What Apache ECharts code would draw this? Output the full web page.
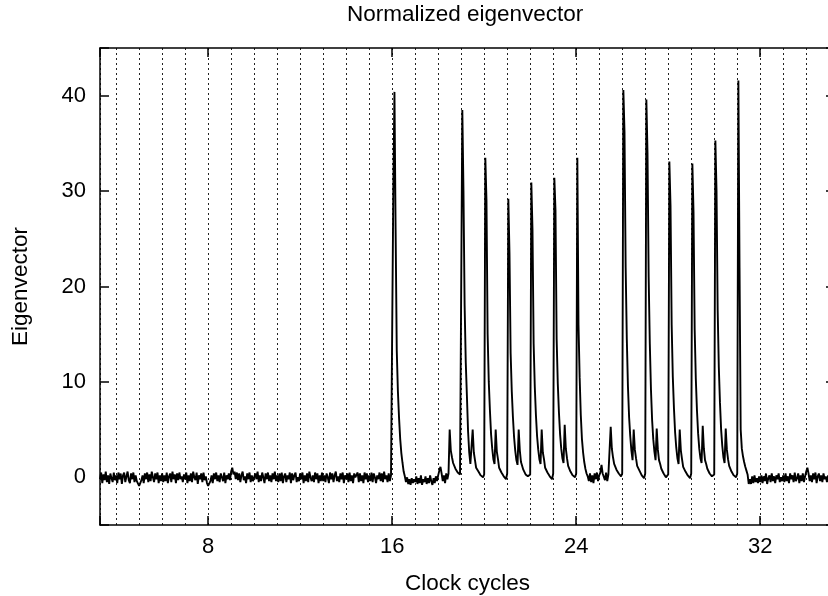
<!DOCTYPE html>
<html>
<head>
<meta charset="utf-8">
<script src="https://cdn.jsdelivr.net/npm/echarts@6/dist/echarts.min.js"></script>
<style>
  html, body { margin: 0; padding: 0; background: #fff; }
  #chart { width: 828px; height: 596px; }
</style>
</head>
<body>
<div id="chart"></div>
<script>
// ---- data ----
const startCycle = 3.3;     // first sample, clock cycles
const sampleStep = 0.05;    // sample spacing, clock cycles
const xMin = 3.3, xMax = 35.25;
const yMin = -5, yMax = 45;
const xTickLabels = [8, 16, 24, 32];
const yTickLabels = [0, 10, 20, 30, 40];

const eigenvector = [
  // 3.30 - 3.95
  -0.2, 0.5, -0.6, 0.3, -0.3, 0.6, -0.5, 0.2, -0.7, 0.4, -0.1, -0.5, 0.5, -0.3,
  // 4
  0.2, -0.6, 0.5, -0.2, 0.4, -0.7, 0.2, 0.5, -0.5, 0.1, 0.6, -0.3, -0.6, 0.4, -0.2, 0.5, -0.5, 0.2, -0.4, -0.5,
  // 5
  -0.9, -0.6, -0.3, 0.2, -0.6, 0.4, -0.2, 0.5, -0.5, 0.3, -0.4, 0.6, 0.0, -0.5, 0.4, -0.2, 0.5, -0.6, 0.2, -0.4,
  // 6
  0.4, -0.5, 0.2, -0.4, 0.5, -0.6, 0.1, 0.4, -0.5, 0.6, -0.2, 0.3, -0.6, 0.4, -0.3, 0.5, -0.2, 0.1, -0.5, 0.3,
  // 7
  -0.2, 0.5, -0.6, 0.2, -0.4, 0.4, -0.5, 0.6, 0.0, -0.3, 0.5, -0.7, 0.2, -0.2, 0.4, -0.5, 0.5, -0.3, 0.1, -0.6,
  // 8
  -0.9, -0.7, -0.4, 0.2, -0.6, 0.4, -0.2, 0.5, -0.4, 0.2, -0.5, 0.4, 0.0, -0.4, 0.5, -0.6, 0.2, -0.2, 0.4, -0.3,
  // 9
  0.6, 1.0, 0.3, 0.6, -0.2, 0.5, -0.3, 0.4, -0.5, 0.2, 0.6, -0.3, 0.1, -0.6, 0.4, -0.2, 0.5, -0.5, 0.2, -0.4,
  // 10
  -0.5, 0.4, -0.2, 0.6, -0.5, 0.2, -0.4, 0.5, 0.0, -0.6, 0.4, -0.2, 0.5, -0.4, 0.2, -0.5, 0.4, -0.2, 0.6, -0.4,
  // 11
  0.2, -0.5, 0.4, -0.4, 0.5, -0.6, 0.1, 0.4, -0.5, 0.2, -0.2, 0.5, -0.6, 0.4, -0.3, 0.2, 0.5, -0.5, 0.0, -0.4,
  // 12
  0.4, -0.2, 0.5, -0.6, 0.2, -0.4, 0.4, -0.5, 0.6, 0.0, -0.4, 0.2, -0.5, 0.5, -0.2, 0.4, -0.6, 0.2, -0.4, 0.5,
  // 13
  -0.4, 0.2, -0.5, 0.4, 0.0, -0.6, 0.5, -0.2, 0.4, -0.5, 0.2, 0.6, -0.4, 0.1, -0.5, 0.4, -0.2, 0.5, -0.6, 0.2,
  // 14
  -0.2, 0.4, -0.5, 0.5, -0.4, 0.2, -0.6, 0.4, 0.0, -0.2, 0.5, -0.5, 0.4, -0.4, 0.2, -0.6, 0.5, -0.2, 0.4, -0.5,
  // 15
  0.2, -0.4, 0.5, -0.5, 0.4, 0.0, -0.6, 0.2, -0.2, 0.5, -0.4, 0.4, -0.5, 0.6, -0.2, 0.2, -0.5, 0.4, -0.4, 0.2,
  // 16
  0.3, 30.0, 40.4, 26.0, 13.3, 9.0, 6.2, 4.0, 2.5, 1.5, 0.6, 0.1, -0.5, 0.0, -0.7, -0.2, -0.8, -0.1, -0.6, -0.2,
  // 17
  -0.5, 0.1, -0.7, -0.1, -0.6, 0.2, -0.8, -0.2, -0.5, 0.1, -0.7, -0.1, -0.6, 0.2, -0.4, -0.8, -0.1, -0.6, 0.1, -0.4,
  // 18
  0.2, 0.7, 1.1, 0.4, -0.4, 0.2, -0.6, 0.4, -0.2, 0.4, 5.0, 2.8, 2.1, 1.5, 1.3, 0.9, 0.9, 0.5, 0.6, 0.3,
  // 19
  0.4, 38.5, 30.0, 18.0, 12.0, 8.5, 4.8, 2.6, 1.4, 1.3, 5.0, 2.6, 1.8, 1.0, 1.1, 0.6, 0.7, 0.2, 0.4, 0.0,
  // 20
  0.3, 33.5, 29.0, 15.0, 10.0, 7.0, 4.5, 3.0, 1.9, 1.4, 5.0, 2.7, 1.9, 1.0, 1.1, 0.5, 0.7, 0.1, 0.3, -0.2,
  // 21
  0.4, 29.2, 23.5, 13.0, 9.0, 6.3, 4.2, 2.8, 1.8, 1.3, 5.0, 2.8, 1.6, 1.4, 0.8, 0.8, 0.3, 0.4, 0.1, -0.1,
  // 22
  0.3, 30.9, 26.0, 14.0, 9.5, 6.5, 4.3, 2.9, 1.9, 1.4, 5.0, 2.6, 1.9, 1.0, 1.1, 0.5, 0.6, 0.1, 0.3, -0.2,
  // 23
  0.4, 31.4, 28.0, 14.5, 9.8, 6.8, 4.5, 3.0, 2.0, 1.5, 5.5, 3.0, 2.0, 1.2, 1.2, 0.6, 0.7, 0.2, 0.4, 0.0,
  // 24
  0.4, 33.5, 16.0, 10.5, 6.5, 4.0, 2.6, 1.6, 0.9, 0.4, 0.1, -0.4, 0.4, -0.5, 0.2, -0.6, 0.4, -0.2, 0.5, -0.4,
  // 25
  0.2, 0.5, 1.3, 0.4, 0.3, -0.3, 0.5, -0.4, 0.3, 0.5, 5.3, 3.0, 2.1, 1.4, 1.2, 0.8, 0.8, 0.4, 0.4, 0.1,
  // 26
  0.4, 40.6, 36.2, 22.0, 14.5, 9.5, 6.3, 4.3, 2.8, 1.8, 5.0, 2.9, 2.0, 1.2, 1.1, 0.7, 0.6, 0.2, 0.3, -0.1,
  // 27
  0.4, 39.6, 34.0, 21.0, 14.0, 9.2, 6.0, 4.0, 2.7, 1.8, 5.1, 2.9, 1.8, 1.4, 0.9, 0.8, 0.4, 0.4, 0.0, 0.1,
  // 28
  0.3, 33.1, 28.5, 16.0, 10.5, 7.2, 4.7, 3.1, 2.0, 1.4, 5.0, 2.8, 1.9, 1.1, 1.0, 0.6, 0.5, 0.2, 0.2, -0.1,
  // 29
  0.4, 32.9, 27.8, 15.5, 10.3, 7.0, 4.6, 3.0, 2.0, 1.5, 5.4, 3.0, 1.8, 1.4, 0.9, 0.8, 0.4, 0.4, 0.1, 0.1,
  // 30
  0.3, 35.3, 30.0, 17.5, 11.5, 7.8, 5.0, 3.3, 2.1, 1.5, 5.1, 2.9, 1.9, 1.2, 1.1, 0.6, 0.6, 0.2, 0.3, 0.0,
  // 31
  0.4, 41.6, 22.0, 5.0, 3.0, 2.2, 1.6, 1.1, 0.7, 0.3, -0.7, -0.2, -0.7, 0.1, -0.6, 0.2, -0.5, -0.1, -0.6, 0.1,
  // 32
  -0.5, 0.2, -0.6, 0.1, -0.4, 0.4, -0.7, -0.1, 0.2, -0.5, 0.4, -0.4, 0.1, -0.6, 0.2, -0.2, 0.4, -0.5, 0.0, -0.4,
  // 33
  0.2, -0.5, 0.4, -0.4, 0.1, -0.6, 0.4, -0.2, 0.2, -0.5, 0.5, -0.4, -0.1, 0.4, -0.6, 0.2, -0.4, 0.4, -0.5, 0.1,
  // 34
  0.6, 1.0, 0.4, -0.4, 0.2, -0.5, 0.4, -0.2, 0.5, -0.6, 0.1, 0.4, -0.4, 0.2, -0.5, 0.4, -0.2, 0.1, -0.5, 0.2,
  // 35.00 - 35.25
  -0.2, 0.4, -0.4, 0.2, -0.5, 0.1
];

// pair each sample with its clock-cycle position
const seriesData = eigenvector.map((v, i) => [Number((startCycle + i * sampleStep).toFixed(2)), v]);

const FONT = 'Liberation Sans, Arial, Helvetica, sans-serif';
const black = '#000';

const chart = echarts.init(document.getElementById('chart'), null, { renderer: 'canvas' });

const xBase = { type: 'value', min: xMin, max: xMax, gridIndex: 0 };
const yBase = { type: 'value', min: yMin, max: yMax, gridIndex: 0 };
const frameLine = { show: true, onZero: false, lineStyle: { color: black, width: 1.5 } };
const inTick = { show: true, inside: true, length: 9, lineStyle: { color: black, width: 1.5 } };

const option = {
  animation: false,
  backgroundColor: '#fff',
  title: {
    text: 'Normalized eigenvector',
    left: 347,
    top: 3,
    padding: 0,
    textStyle: { fontFamily: FONT, fontSize: 22.5, fontWeight: 'normal', color: black }
  },
  grid: { left: 100, right: -7, top: 48, bottom: 71, containLabel: false, outerBoundsMode: 'none' },
  xAxis: [
    Object.assign({}, xBase, {
      position: 'bottom',
      minInterval: 1, maxInterval: 1,
      axisLine: frameLine,
      axisTick: { show: false },
      axisLabel: { show: false },
      splitLine: { show: true, lineStyle: { color: '#222', width: 1, type: [2, 3] } },
      name: 'Clock cycles',
      nameLocation: 'middle',
      nameGap: 47,
      nameTextStyle: { fontFamily: FONT, fontSize: 22.5, color: black }
    }),
    Object.assign({}, xBase, {
      position: 'bottom',
      minInterval: 8, maxInterval: 8,
      axisLine: { show: false, onZero: false },
      axisTick: inTick,
      axisLabel: {
        show: true, margin: 11, fontFamily: FONT, fontSize: 22, color: black,
        formatter: v => (xTickLabels.indexOf(v) >= 0 ? String(v) : '')
      },
      splitLine: { show: false }
    }),
    Object.assign({}, xBase, {
      position: 'top',
      minInterval: 8, maxInterval: 8,
      axisLine: frameLine,
      axisTick: inTick,
      axisLabel: { show: false },
      splitLine: { show: false }
    })
  ],
  yAxis: [
    Object.assign({}, yBase, {
      position: 'left',
      minInterval: 10, maxInterval: 10,
      axisLine: frameLine,
      axisTick: inTick,
      axisLabel: {
        show: true, margin: 14, fontFamily: FONT, fontSize: 22, color: black,
        formatter: v => (yTickLabels.indexOf(v) >= 0 ? String(v) : '')
      },
      splitLine: { show: false },
      name: 'Eigenvector',
      nameLocation: 'middle',
      nameGap: 68,
      nameRotate: 90,
      nameTextStyle: { fontFamily: FONT, fontSize: 22.5, color: black }
    }),
    Object.assign({}, yBase, {
      position: 'right',
      minInterval: 10, maxInterval: 10,
      axisLine: frameLine,
      axisTick: inTick,
      axisLabel: { show: false },
      splitLine: { show: false }
    })
  ],
  series: [{
    type: 'line',
    xAxisIndex: 0,
    yAxisIndex: 0,
    data: seriesData,
    showSymbol: false,
    symbol: 'none',
    sampling: null,
    clip: true,
    lineStyle: { color: black, width: 1.9 },
    emphasis: { disabled: true }
  }]
};

chart.setOption(option);
</script>
</body>
</html>
